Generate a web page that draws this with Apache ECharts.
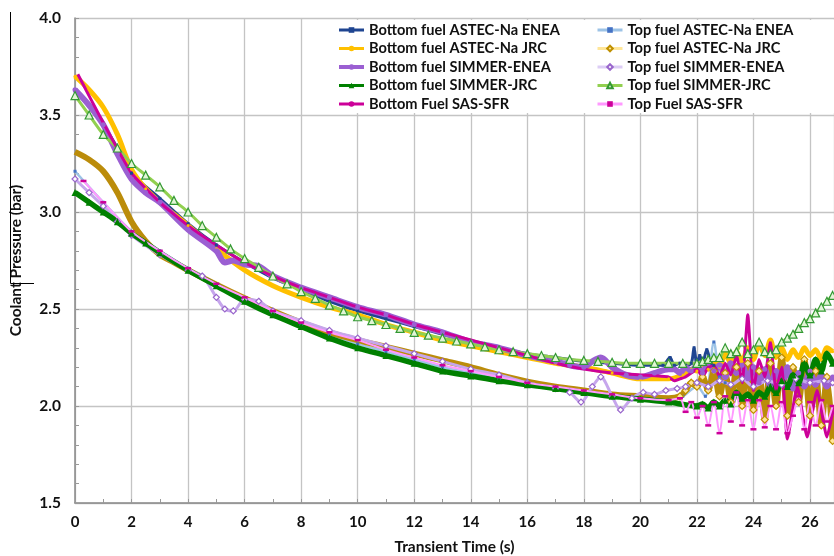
<!DOCTYPE html>
<html>
<head>
<meta charset="utf-8">
<script src="https://cdn.jsdelivr.net/npm/echarts@6/dist/echarts.min.js"></script>
<style>html,body{margin:0;padding:0;background:#fff}#c{width:834px;height:556px}</style>
</head>
<body>
<div id="c"></div>
<script>
// ---- data (time in s, pressure in bar) ----
const xTicks = [0,2,4,6,8,10,12,14,16,18,20,22,24,26];
const yTicks = [1.5,2.0,2.5,3.0,3.5,4.0];

const names = {
  BAE: 'Bottom fuel ASTEC-Na ENEA', TAE: 'Top fuel ASTEC-Na ENEA',
  BAJ: 'Bottom fuel ASTEC-Na JRC',  TAJ: 'Top fuel ASTEC-Na JRC',
  BSE: 'Bottom fuel SIMMER-ENEA',   TSE: 'Top fuel SIMMER-ENEA',
  BSJ: 'Bottom fuel SIMMER-JRC',    TSJ: 'Top fuel SIMMER-JRC',
  BSS: 'Bottom Fuel SAS-SFR',       TSS: 'Top Fuel SAS-SFR'
};

const tBAE = [0,0.5,1,1.5,2,3,4,5,6,7,8,9,10,11,12,13,14,15,16,17,18,19,20,20.5,20.8,21.05,21.2,21.4,21.6,21.8,21.9,22.0,22.1,22.2,22.35,22.5,22.6];
const vBAE = [3.63,3.55,3.45,3.33,3.20,3.07,2.94,2.83,2.74,2.66,2.60,2.54,2.49,2.45,2.41,2.37,2.33,2.30,2.27,2.25,2.23,2.22,2.21,2.21,2.21,2.25,2.21,2.22,2.21,2.22,2.30,2.21,2.26,2.22,2.29,2.22,2.21];

const tTAE = [0,1,2,3,4,5,6,7,8,9,10,11,12,13,14,15,16,17,18,19,20,21,21.5,22,22.3,22.6,22.8,23];
const vTAE = [3.21,3.05,2.90,2.80,2.71,2.62,2.55,2.48,2.42,2.37,2.32,2.28,2.24,2.20,2.17,2.14,2.11,2.09,2.07,2.05,2.04,2.03,2.05,2.10,2.05,2.33,2.15,2.12];

const tBAJ = [0,0.5,1,1.5,2,2.5,3,4,5,6,7,8,9,10,11,12,13,14,15,16,17,18,19,20,21,21.5,
  21.8,22.0,22.2,22.4,22.6,22.8,23.0,23.2,23.4,23.6,23.8,24.0,24.2,24.4,24.6,24.8,25.0,25.2,25.4,25.6,25.8,26.0,26.2,26.4,26.6,26.8];
const vBAJ = [3.70,3.63,3.54,3.40,3.22,3.12,3.05,2.93,2.81,2.70,2.62,2.56,2.51,2.47,2.42,2.38,2.34,2.31,2.28,2.25,2.22,2.20,2.17,2.14,2.14,2.16,
  2.19,2.18,2.22,2.19,2.24,2.20,2.27,2.22,2.28,2.23,2.30,2.24,2.32,2.26,2.34,2.25,2.30,2.24,2.29,2.25,2.30,2.26,2.29,2.24,2.30,2.28];

const tTAJ = [0,0.5,1,1.5,2,2.5,3,3.5,4,5,6,7,8,9,10,11,12,13,14,15,16,17,18,19,20,21,21.4,
  21.6,21.8,22.0,22.2,22.4,22.6,22.8,23.0,23.2,23.4,23.6,23.8,24.0,24.2,24.4,24.6,24.8,25.0,25.2,25.4,25.6,25.8,26.0,26.2,26.4,26.6,26.8];
const vTAJ = [3.31,3.27,3.21,3.10,2.95,2.85,2.78,2.74,2.70,2.625,2.555,2.49,2.43,2.38,2.34,2.305,2.27,2.235,2.20,2.16,2.125,2.10,2.08,2.06,2.05,2.04,2.05,
  2.08,2.12,2.10,2.15,2.08,2.18,2.05,2.17,2.02,2.20,2.00,2.22,1.98,2.18,1.93,2.22,2.00,2.25,1.95,2.20,2.02,2.24,1.95,2.18,1.90,2.15,1.82];

const tBSE = [0,0.5,1,1.5,2,2.5,3,4,5,5.3,5.6,6,6.5,7,8,9,10,11,12,13,14,15,16,17,17.5,18,18.3,18.6,19,19.5,20,20.5,21,
  21.2,21.4,21.6,21.8,22.0,22.2,22.4,22.6,22.8,23.0,23.2,23.4,23.6,23.8,24.0,24.2,24.4,24.6,24.8,25.0,25.2,25.4,25.6,25.8,26.0,26.2,26.4,26.6,26.8];
const vBSE = [3.63,3.55,3.45,3.30,3.17,3.10,3.05,2.91,2.80,2.74,2.75,2.73,2.72,2.67,2.61,2.56,2.51,2.47,2.42,2.38,2.33,2.30,2.26,2.23,2.21,2.20,2.23,2.25,2.20,2.16,2.15,2.17,2.19,
  2.19,2.17,2.20,2.18,2.21,2.17,2.22,2.18,2.21,2.15,2.22,2.17,2.21,2.14,2.20,2.12,2.19,2.10,2.18,2.12,2.20,2.09,2.17,2.10,2.18,2.11,2.16,2.10,2.15];

const tTSE = [0,0.5,1,1.5,2,3,4,4.5,5,5.3,5.6,6,6.5,7,8,9,10,11,12,13,14,15,16,17,17.5,17.9,18.3,18.6,19,19.3,19.7,20.1,20.5,20.9,21.3,
  21.6,22,22.4,22.8,23.2,23.6,24,24.5,25,25.5,26,26.5,26.8];
const vTSE = [3.17,3.10,3.03,2.95,2.88,2.78,2.70,2.67,2.56,2.50,2.49,2.55,2.54,2.49,2.44,2.39,2.35,2.31,2.27,2.23,2.19,2.16,2.12,2.09,2.07,2.02,2.10,2.15,2.05,1.98,2.04,2.07,2.06,2.08,2.09,
  2.10,2.12,2.10,2.13,2.11,2.14,2.10,2.13,2.11,2.14,2.12,2.13,2.12];

const tBSJ = [0,0.5,1,1.5,2,2.5,3,4,5,6,7,8,9,10,11,12,13,14,15,16,17,18,19,20,21,
  22.0,22.2,22.4,22.6,22.8,23.0,23.2,23.4,23.6,23.8,24.0,24.2,24.4,24.6,24.8,25.0,25.2,25.4,25.6,25.8,26.0,26.2,26.4,26.6,26.8];
const vBSJ = [3.10,3.05,3.00,2.95,2.89,2.84,2.79,2.70,2.62,2.54,2.47,2.41,2.35,2.30,2.26,2.22,2.18,2.155,2.13,2.11,2.09,2.07,2.05,2.035,2.02,
  2.00,2.01,1.99,2.02,2.00,2.03,2.01,2.07,2.04,2.06,2.03,2.07,2.05,2.10,2.07,2.13,2.10,2.16,2.12,2.22,2.16,2.24,2.18,2.27,2.22];

const tTSJ = [0,0.5,1,1.5,2,2.5,3,3.5,4,4.5,5,5.5,6,6.5,7,7.5,8,8.5,9,9.5,10,10.5,11,11.5,12,12.5,13,13.5,14,14.5,15,15.5,16,16.5,17,17.5,18,18.5,19,19.5,20,20.5,21,
  21.5,22.0,22.2,22.4,22.6,22.8,23.0,23.2,23.4,23.6,23.8,24.0,24.2,24.4,24.6,24.8,25.0,25.2,25.4,25.6,25.8,26.0,26.2,26.4,26.6,26.8];
const vTSJ = [3.60,3.50,3.40,3.33,3.25,3.19,3.13,3.06,3.00,2.93,2.87,2.81,2.76,2.715,2.67,2.63,2.59,2.555,2.52,2.49,2.46,2.44,2.42,2.40,2.38,2.365,2.35,2.335,2.32,2.305,2.29,2.28,2.27,2.26,2.25,2.24,2.235,2.23,2.225,2.22,2.22,2.22,2.22,
  2.22,2.22,2.23,2.24,2.25,2.25,2.30,2.27,2.28,2.33,2.27,2.29,2.33,2.28,2.27,2.29,2.33,2.35,2.37,2.40,2.43,2.45,2.48,2.51,2.54,2.57];

const tBSS = [0.1,1,2,3,4,5,6,7,8,9,10,11,12,13,14,15,16,17,18,19,20,21,
  21.2,21.4,21.6,21.8,22.0,22.2,22.4,22.6,22.8,23.0,23.2,23.4,23.6,23.8,24.0,24.2,24.4,24.6,24.8,25.0,25.2,25.55,25.9,26.25,26.6,26.85];
const vBSS = [3.71,3.46,3.20,3.05,2.93,2.83,2.74,2.67,2.61,2.56,2.51,2.47,2.42,2.38,2.34,2.30,2.26,2.22,2.19,2.17,2.16,2.15,
  2.13,2.14,2.15,2.17,2.19,2.15,2.20,2.21,2.15,2.22,2.16,2.26,2.12,2.47,2.08,2.24,2.15,2.33,2.08,2.20,1.83,2.10,1.84,2.08,1.84,2.00];

const tTSS = [0.3,1,2,3,4,5,6,7,8,9,10,11,12,13,14,15,16,17,18,19,20,21,
  21.4,21.6,21.8,22.0,22.2,22.4,22.6,22.8,23.0,23.2,23.4,23.6,23.8,24.0,24.2,24.4,24.6,24.8,25.0,25.2,25.4,25.6,25.8,26.0,26.2,26.4,26.6,26.8];
const vTSS = [3.16,3.05,2.90,2.80,2.71,2.63,2.56,2.49,2.43,2.38,2.34,2.29,2.25,2.21,2.18,2.15,2.12,2.10,2.08,2.06,2.04,2.03,
  2.04,1.97,2.02,1.94,2.00,1.90,2.02,1.86,2.05,1.92,2.07,1.90,2.03,1.88,2.03,1.89,2.00,1.88,2.02,1.86,1.95,2.05,1.88,2.02,1.90,2.03,1.92,2.00];

// ---- chart ----
const FONT = 'Lato, "Liberation Sans", sans-serif';
// markerFrom: markers are drawn only from that time on (style choice)
const pts = (t, v, markerFrom) => t.map((x, i) =>
  (markerFrom != null && x < markerFrom) ? {value: [x, v[i]], symbol: 'none'} : [x, v[i]]);

function line(name, t, v, o, markerFrom) {
  return Object.assign({
    name, type: 'line', data: pts(t, v, markerFrom), smooth: 0.3, animation: false,
    showSymbol: true, silent: true
  }, o);
}

const series = [
  line(names.BAE, tBAE, vBAE, {symbol:'rect', symbolSize:3, lineStyle:{color:'#1f4591', width:3}, itemStyle:{color:'#1f4591'}}),
  line(names.TAE, tTAE, vTAE, {symbol:'rect', symbolSize:3, lineStyle:{color:'#9dc3e6', width:2.5}, itemStyle:{color:'#4472c4'}}),
  line(names.BAJ, tBAJ, vBAJ, {symbol:'circle', symbolSize:3, lineStyle:{color:'#ffc000', width:5}, itemStyle:{color:'#ffc000'}}),
  line(names.TAJ, tTAJ, vTAJ, {symbol:'diamond', symbolSize:7, lineStyle:{color:'#bb8c0a', width:6}, itemStyle:{color:'#ffe699', borderColor:'#bf9000', borderWidth:1.2}}, 21.3),
  line(names.BSE, tBSE, vBSE, {symbol:'circle', symbolSize:5, lineStyle:{color:'#9b5fd2', width:6}, itemStyle:{color:'#9b5fd2'}}),
  line(names.TSE, tTSE, vTSE, {symbol:'diamond', symbolSize:6, lineStyle:{color:'#c6a6ec', width:3}, itemStyle:{color:'#ffffff', borderColor:'#9966cc', borderWidth:1.2}}),
  line(names.BSJ, tBSJ, vBSJ, {symbol:'triangle', symbolSize:7, lineStyle:{color:'#008000', width:5.5}, itemStyle:{color:'#008000'}}),
  line(names.TSJ, tTSJ, vTSJ, {symbol:'triangle', symbolSize:8, lineStyle:{color:'#92d050', width:3}, itemStyle:{color:'#e2f5d6', borderColor:'#339933', borderWidth:1.2}}),
  line(names.BSS, tBSS, vBSS, {symbol:'none', smooth:0.15, lineStyle:{color:'#cc0099', width:3}, itemStyle:{color:'#cc0099'}}),
  line(names.TSS, tTSS, vTSS, {symbol:'rect', symbolSize:[6,2.5], lineStyle:{color:'#ff99ff', width:2}, itemStyle:{color:'#cc0099'}})
];

const legText = {fontFamily: FONT, fontWeight: 'bold', fontSize: 14.6, color: '#111', lineHeight: 18};
const legBase = {orient:'vertical', top: 21, itemWidth: 25, itemHeight: 7, itemGap: 0.5, padding: 0,
  selectedMode: false, textStyle: legText, z: 5};

const chart = echarts.init(document.getElementById('c'), null, {renderer: 'canvas'});
chart.setOption({
  backgroundColor: '#ffffff',
  animation: false,
  grid: {left: 75, right: 0, top: 18, bottom: 53, containLabel: false, outerBoundsMode: 'none'},
  legend: [
    Object.assign({}, legBase, {left: 337, data: [
      {name: names.BAE, lineStyle:{width:3}},
      {name: names.BAJ, lineStyle:{width:3}},
      {name: names.BSE, lineStyle:{width:4}},
      {name: names.BSJ, lineStyle:{width:3}},
      {name: names.BSS, lineStyle:{width:3}}
    ]}),
    Object.assign({}, legBase, {left: 596, data: [
      {name: names.TAE, lineStyle:{width:3}},
      {name: names.TAJ, lineStyle:{width:3, color:'#ffe699'}},
      {name: names.TSE, lineStyle:{width:3, color:'#dccdf5'}},
      {name: names.TSJ, lineStyle:{width:3}},
      {name: names.TSS, lineStyle:{width:3}}
    ]})
  ],
  xAxis: {
    type: 'value', min: 0, max: 26.85, interval: 2,
    name: 'Transient Time (s)', nameLocation: 'middle', nameGap: 36,
    nameTextStyle: {fontFamily: FONT, fontWeight: 'bold', fontSize: 15.5, color: '#111'},
    axisLine: {show: true, lineStyle: {color: '#888', width: 1.5}},
    axisTick: {show: true, inside: true, length: 4, lineStyle: {color: '#999'}},
    minorTick: {show: true, splitNumber: 2, length: 4, lineStyle: {color: '#999'}},
    splitLine: {show: true, lineStyle: {color: '#c4c4c4', width: 1.3}},
    axisLabel: {show: true, margin: 12, showMaxLabel: false, fontFamily: FONT, fontWeight: 'bold', fontSize: 15, color: '#111',
      formatter: v => xTicks.indexOf(v) >= 0 ? String(v) : ''}
  },
  yAxis: {
    type: 'value', min: 1.5, max: 4.0, interval: 0.5,
    name: 'Coolant Pressure (bar)', nameLocation: 'middle', nameGap: 51, nameRotate: 90,
    nameTextStyle: {fontFamily: FONT, fontWeight: 'bold', fontSize: 15.5, color: '#111'},
    axisLine: {show: true, lineStyle: {color: '#888', width: 1.5}},
    axisTick: {show: true, inside: true, length: 4, lineStyle: {color: '#999'}},
    minorTick: {show: true, splitNumber: 5, length: 4, lineStyle: {color: '#999'}},
    splitLine: {show: true, lineStyle: {color: '#c4c4c4', width: 1.3}},
    axisLabel: {margin: 14, fontFamily: FONT, fontWeight: 'bold', fontSize: 15.5, color: '#111',
      formatter: v => yTicks.indexOf(+v.toFixed(1)) >= 0 ? v.toFixed(1) : ''}
  },
  graphic: [
    {type: 'rect', z: 1, silent: true, shape: {x: 333, y: 20, width: 501, height: 93}, style: {fill: '#ffffff'}},
    {type: 'polyline', z: 10, silent: true, shape: {points: [[10.5, 12], [10.5, 283.5], [34, 283.5]]}, style: {stroke: '#000', lineWidth: 1, fill: null}}
  ],
  series
});
</script>
</body>
</html>
